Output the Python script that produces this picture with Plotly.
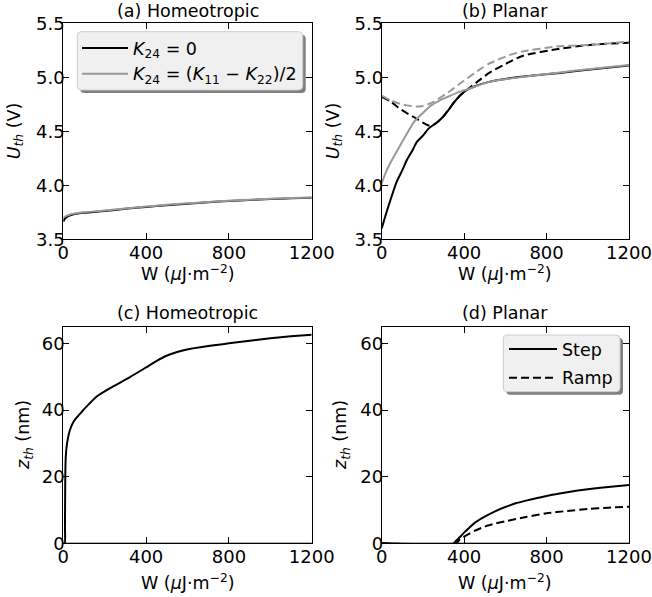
import plotly.graph_objects as go

# ---------------- data ----------------
# (a) Homeotropic, threshold voltage
a_W_k0 = [0, 5, 13, 30, 56, 100, 200, 300, 400, 500, 600, 700, 800, 900, 1000, 1100, 1200]
a_U_k0 = [3.663, 3.685, 3.70, 3.72, 3.734, 3.745, 3.762, 3.782, 3.80, 3.815, 3.83, 3.843, 3.855, 3.864, 3.872, 3.879, 3.885]
a_W_k1 = [0, 13, 30, 56, 100, 200, 300, 400, 500, 600, 700, 800, 900, 1000, 1100, 1200]
a_U_k1 = [3.70, 3.715, 3.728, 3.738, 3.75, 3.767, 3.786, 3.804, 3.819, 3.833, 3.846, 3.858, 3.867, 3.875, 3.882, 3.888]

# (b) Planar, threshold voltage
b_W_step_k0 = [0, 20, 40, 72, 100, 121, 151, 170, 200, 225, 240, 263, 296, 321, 352, 385, 417, 450, 525, 600, 700, 866, 1000, 1200]
b_U_step_k0 = [3.60, 3.73, 3.85, 4.03, 4.14, 4.23, 4.33, 4.40, 4.46, 4.52, 4.545, 4.575, 4.63, 4.69, 4.77, 4.84, 4.887, 4.915, 4.96, 4.985, 5.01, 5.04, 5.07, 5.11]
b_W_step_k1 = [0, 20, 40, 78, 120, 158, 200, 240, 280, 322, 370, 418, 525, 628, 866, 1000, 1200]
b_U_step_k1 = [4.02, 4.12, 4.20, 4.33, 4.47, 4.59, 4.67, 4.74, 4.785, 4.82, 4.86, 4.89, 4.96, 4.99, 5.045, 5.075, 5.115]
b_W_ramp_k0 = [0, 40, 80, 120, 158, 200, 224, 240, 263, 296, 321, 352, 385, 425, 482, 525, 628, 686, 848, 1010, 1200]
b_U_ramp_k0 = [4.82, 4.78, 4.72, 4.67, 4.63, 4.58, 4.556, 4.55, 4.575, 4.63, 4.69, 4.77, 4.84, 4.90, 4.985, 5.045, 5.15, 5.20, 5.26, 5.30, 5.32]
b_W_ramp_k1 = [0, 40, 80, 120, 167, 200, 250, 322, 400, 482, 525, 626, 686, 848, 1010, 1200]
b_U_ramp_k1 = [4.83, 4.79, 4.76, 4.74, 4.73, 4.735, 4.77, 4.86, 4.97, 5.08, 5.13, 5.21, 5.24, 5.285, 5.30, 5.33]

# (c) Homeotropic, threshold thickness
c_W_k0 = [0, 7, 8, 9, 10, 12, 16, 24, 32, 48, 64, 90, 112, 160, 224, 320, 400, 450, 496, 550, 592, 700, 800, 900, 1000, 1100, 1200]
c_z_k0 = [0, 0, 5, 15, 22, 26, 29, 32, 34, 36.3, 37.7, 39.5, 41, 44, 46.5, 49.8, 52.8, 54.7, 56.2, 57.4, 58.1, 59.2, 60, 60.8, 61.5, 62.1, 62.6]
c_W_k1 = [0, 1200]
c_z_k1 = [0, 0]

# (d) Planar, threshold thickness
d_W_step = [0, 350, 360, 380, 400, 425, 453, 500, 550, 600, 650, 700, 800, 900, 1000, 1100, 1200]
d_z_step = [0, 0, 0.7, 1.9, 3.2, 4.7, 6.2, 8.0, 9.6, 10.9, 12.0, 12.8, 14.2, 15.3, 16.2, 16.9, 17.5]
d_W_ramp = [0, 360, 380, 400, 450, 500, 550, 600, 700, 800, 900, 1000, 1100, 1200]
d_z_ramp = [0, 0, 1.2, 2.0, 3.7, 5.0, 5.9, 6.6, 7.9, 9.0, 9.7, 10.3, 10.7, 11.0]
d_W_k1 = [0, 1200]
d_z_k1 = [0, 0]

x_ticks = [0, 400, 800, 1200]
u_ticks = [3.5, 4.0, 4.5, 5.0, 5.5]
z_ticks = [0, 20, 40, 60]

# ---------------- figure ----------------
FW, FH = 652, 597
FONT = "DejaVu Sans"
FS = 17.5
FT = 18
BLACK = "#000000"
GRAY = "#999999"
DASH = "8px,4px"

def px(x):
    return x / FW

def py(y):
    return 1 - y / FH

fig = go.Figure()

def add(x, y, xa, ya, color, dash="solid", name=None, legend=None, group=None, shape="spline"):
    fig.add_trace(go.Scatter(
        x=x, y=y, mode="lines", xaxis=xa, yaxis=ya,
        line=dict(color=color, width=2, dash=dash, shape=shape, smoothing=0.6),
        name=name or "", showlegend=legend is not None,
        legend=legend if legend else "legend", legendgroup=group,
        hoverinfo="skip"))

K0 = "<i>K</i><sub>24</sub> = 0"
K1 = "<i>K</i><sub>24</sub> = (<i>K</i><sub>11</sub> − <i>K</i><sub>22</sub>)/2"

# (a)
add(a_W_k0, a_U_k0, "x", "y", BLACK, name=K0, legend="legend", group="g1")
add(a_W_k1, a_U_k1, "x", "y", GRAY, name=K1, legend="legend", group="g2")
# (b)
add(b_W_step_k0, b_U_step_k0, "x2", "y2", BLACK)
add(b_W_ramp_k0, b_U_ramp_k0, "x2", "y2", BLACK, dash=DASH)
add(b_W_step_k1, b_U_step_k1, "x2", "y2", GRAY)
add(b_W_ramp_k1, b_U_ramp_k1, "x2", "y2", GRAY, dash=DASH)
# (c)
add(c_W_k1, c_z_k1, "x3", "y3", GRAY, shape="linear")
add(c_W_k0, c_z_k0, "x3", "y3", BLACK)
# (d)
add(d_W_k1, d_z_k1, "x4", "y4", GRAY, shape="linear")
add(d_W_step, d_z_step, "x4", "y4", BLACK, name="Step", legend="legend2", group="h1")
add(d_W_ramp, d_z_ramp, "x4", "y4", BLACK, dash=DASH, name="Ramp", legend="legend2", group="h2")

# axes domains (pixels)
L1, R1 = 63.3, 311.7
L2, R2 = 381.7, 629.0
T1, B1 = 23.3, 239.3
T2, B2 = 326.7, 543.3

axis_common = dict(
    showline=True, linecolor="black", linewidth=1, mirror="allticks",
    ticks="inside", ticklen=6, tickwidth=1, tickcolor="black",
    showgrid=False, zeroline=False, automargin=False,
    tickfont=dict(family=FONT, size=FT, color="black"),
    layer="above traces",
)

def xax(l, r, anchor):
    return dict(domain=[px(l), px(r)], range=[0, 1200], tickvals=x_ticks,
                anchor=anchor, ticklabelstandoff=-3, **axis_common)

def yax(t, b, anchor, rng, ticks, fmt):
    return dict(domain=[py(b), py(t)], range=rng, tickvals=ticks, tickformat=fmt,
                anchor=anchor, ticklabelstandoff=-6, **axis_common)

fig.update_layout(
    width=FW, height=FH,
    margin=dict(l=0, r=0, t=0, b=0, pad=0, autoexpand=False),
    paper_bgcolor="white", plot_bgcolor="white",
    font=dict(family=FONT, size=FS, color="black"),
    xaxis=xax(L1, R1, "y"),
    yaxis=yax(T1, B1, "x", [3.5, 5.5], u_ticks, ".1f"),
    xaxis2=xax(L2, R2, "y2"),
    yaxis2=yax(T1, B1, "x2", [3.5, 5.5], u_ticks, ".1f"),
    xaxis3=xax(L1, R1, "y3"),
    yaxis3=yax(T2, B2, "x3", [0, 65], z_ticks, "d"),
    xaxis4=xax(L2, R2, "y4"),
    yaxis4=yax(T2, B2, "x4", [0, 65], z_ticks, "d"),
    legend=dict(x=px(77), y=py(30), xanchor="left", yanchor="top",
                bgcolor="rgba(0,0,0,0)", borderwidth=0,
                font=dict(family=FONT, size=FS), tracegroupgap=0,
                itemwidth=46),
    legend2=dict(x=px(504), y=py(331), xanchor="left", yanchor="top",
                 bgcolor="rgba(0,0,0,0)", borderwidth=0,
                 font=dict(family=FONT, size=FS), tracegroupgap=3,
                 itemwidth=48),
    showlegend=True,
)

# legend boxes with shadow (matplotlib fancybox style)
def rrect(x0, y0, x1, y1, r=4):
    p = lambda x, y: f"{px(x):.5f},{py(y):.5f}"
    return (f"M {p(x0 + r, y0)} L {p(x1 - r, y0)} Q {p(x1, y0)} {p(x1, y0 + r)} "
            f"L {p(x1, y1 - r)} Q {p(x1, y1)} {p(x1 - r, y1)} "
            f"L {p(x0 + r, y1)} Q {p(x0, y1)} {p(x0, y1 - r)} "
            f"L {p(x0, y0 + r)} Q {p(x0, y0)} {p(x0 + r, y0)} Z")

for (x0, y0, x1, y1) in [(77.3, 31.7, 302.7, 90.0), (503.3, 335.0, 620.0, 391.7)]:
    fig.add_shape(type="path", path=rrect(x0 + 3, y0 + 3, x1 + 3, y1 + 3),
                  xref="paper", yref="paper", fillcolor="rgba(0,0,0,0.5)",
                  line=dict(width=0), layer="above")
    fig.add_shape(type="path", path=rrect(x0, y0, x1, y1),
                  xref="paper", yref="paper", fillcolor="#f0f0f0",
                  line=dict(color="#cccccc", width=1), layer="above")

# titles and axis labels as annotations
def ann(text, x, y, rot=0, xanchor="center"):
    fig.add_annotation(text=text, x=px(x), y=py(y), xref="paper", yref="paper",
                       showarrow=False, textangle=rot, xanchor=xanchor, yanchor="middle",
                       font=dict(family=FONT, size=FS, color="black"))

ann("(a) Homeotropic", (L1 + R1) / 2, 10.5)
ann("(b) Planar", (L2 + R2) / 2, 10.5)
ann("(c) Homeotropic", (L1 + R1) / 2, 313)
ann("(d) Planar", (L2 + R2) / 2, 313)

WLAB = "W (<i>μ</i>J·m<sup>−2</sup>)"
ann(WLAB, (L1 + R1) / 2, 272.5)
ann(WLAB, (L2 + R2) / 2, 272.5)
ann(WLAB, (L1 + R1) / 2, 582)
ann(WLAB, (L2 + R2) / 2, 582)

ULAB = "<i>U</i><sub><i>th</i></sub> (V)"
ZLAB = "<i>z</i><sub><i>th</i></sub> (nm)"
ann(ULAB, 15, (T1 + B1) / 2, rot=-90)
ann(ULAB, 334, (T1 + B1) / 2, rot=-90)
ann(ZLAB, 24, (T2 + B2) / 2, rot=-90)
ann(ZLAB, 341, (T2 + B2) / 2, rot=-90)

fig.write_html("out.html",
               config={"displayModeBar": False},
               post_script="document.body.style.margin='0';document.body.style.overflow='hidden';")
